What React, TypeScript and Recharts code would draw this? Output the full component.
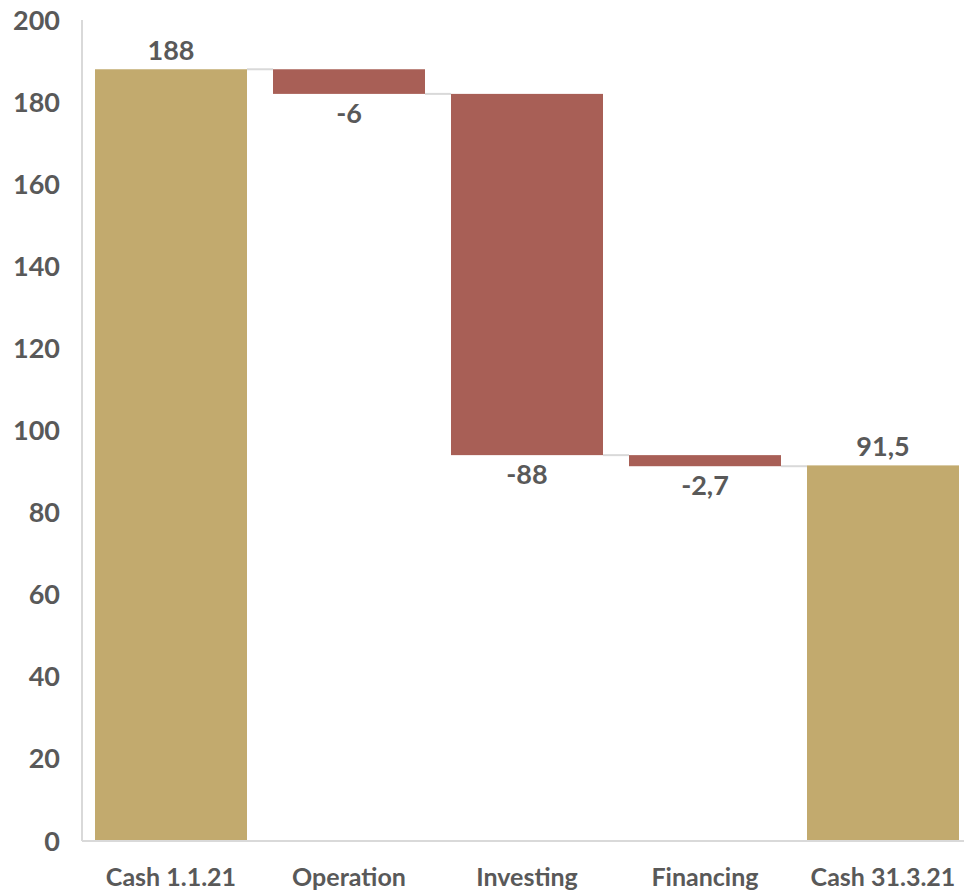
import { BarChart, Bar, XAxis, YAxis, Cell, LabelList } from "recharts";

const categories = ["Cash 1.1.21", "Operation", "Investing", "Financing", "Cash 31.3.21"];
const changes = [188, -6, -88, -2.7, 91.5];
const isTotal = [true, false, false, false, true];
const yTicks = [0, 20, 40, 60, 80, 100, 120, 140, 160, 180, 200];

const GOLD = "#C2AA6E";
const RED = "#A85F56";
const GRID = "#D9D9D9";
const TEXT = "#595959";
const FONT = "Lato, 'Open Sans', sans-serif";
const HALF_GAP = 13;

// Waterfall rows: an invisible base plus the visible step
const rows = (() => {
  let running = 0;
  return categories.map((name, i) => {
    const v = changes[i];
    if (isTotal[i]) {
      running = v;
      return { name, base: 0, step: v, value: v, total: true };
    }
    const end = running + v;
    const row = { name, base: Math.min(running, end), step: Math.abs(v), value: v, total: false };
    running = end;
    return row;
  });
})();

const fmt = (v: number) => String(v).replace(".", ",");

// Bar plus the thin connector that runs over to the next bar
function StepBar(props: any) {
  const { x, y, width, height, fill, index } = props;
  const row = rows[index];
  const last = index === rows.length - 1;
  const ly = row.total ? y : y + height;
  return (
    <g>
      <rect x={x} y={y} width={width} height={height} fill={fill} />
      {!last && (
        <line x1={x + width} x2={x + width + HALF_GAP * 2} y1={ly} y2={ly} stroke={GRID} strokeWidth={2} />
      )}
    </g>
  );
}

function StepLabel(props: any) {
  const { x, y, width, height, index } = props;
  const row = rows[index];
  const cx = x + width / 2;
  const ty = row.total ? y - 9 : y + height + 29;
  return (
    <text x={cx} y={ty} textAnchor="middle" fill={TEXT} fontSize={27} fontWeight={700} fontFamily={FONT}>
      {fmt(row.value)}
    </text>
  );
}

export default function App() {
  return (
    <div style={{ position: "absolute", left: 0, top: 0, width: 964, height: 891, overflow: "hidden", background: "#fff" }}>
      <BarChart
        width={980}
        height={891}
        data={rows}
        margin={{ top: 20, right: 8, bottom: 0, left: 0 }}
        barCategoryGap={HALF_GAP}
      >
        <XAxis
          dataKey="name"
          height={50}
          axisLine={{ stroke: GRID, strokeWidth: 2 }}
          tickLine={false}
          tick={{ fill: TEXT, fontSize: 25, fontWeight: 700, fontFamily: FONT }}
          tickMargin={21}
          interval={0}
        />
        <YAxis
          width={82}
          domain={[0, 200]}
          ticks={yTicks}
          axisLine={{ stroke: GRID, strokeWidth: 2 }}
          tickLine={false}
          tick={{ fill: TEXT, fontSize: 27, fontWeight: 700, fontFamily: FONT }}
          tickMargin={16}
        />
        <Bar dataKey="base" stackId="w" fill="transparent" isAnimationActive={false} />
        <Bar dataKey="step" stackId="w" shape={<StepBar />} isAnimationActive={false}>
          {rows.map((r) => (
            <Cell key={r.name} fill={r.total ? GOLD : RED} />
          ))}
          <LabelList dataKey="value" content={<StepLabel />} />
        </Bar>
      </BarChart>
    </div>
  );
}
